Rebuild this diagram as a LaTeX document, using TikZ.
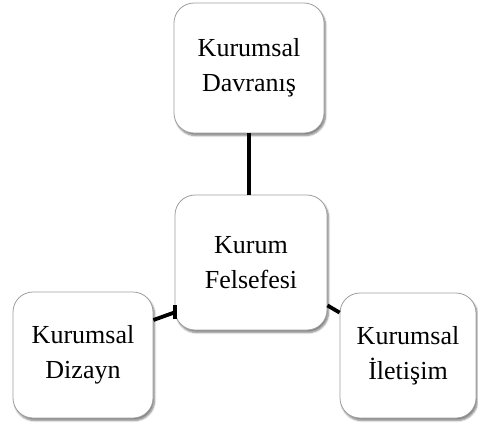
\documentclass[tikz,border=0pt]{standalone}
\usepackage{fontspec}
\setmainfont{Liberation Serif}
\usetikzlibrary{shadows.blur}
\begin{document}
\begin{tikzpicture}[x=1pt,y=-1pt,
  box/.style={draw=gray!75, line width=0.8pt, fill=white, rounded corners=20pt,
    align=center, font=\fontsize{26}{35}\selectfont, inner sep=0pt,
    blur shadow={shadow xshift=1.5pt, shadow yshift=-2.5pt, shadow blur steps=6, shadow opacity=50}},
  conn/.style={line width=3.8pt, black}]
\useasboundingbox (0,0) rectangle (478,426);
% boxes
\node[box, minimum width=150pt, minimum height=130pt] (top) at (249,68) {Kurumsal\\Davranış};
\node[box, minimum width=152pt, minimum height=135pt] (ctr) at (251,262.5) {Kurum\\Felsefesi};
\node[box, minimum width=140pt, minimum height=126pt] (lft) at (83,355) {Kurumsal\\Dizayn};
\node[box, minimum width=136pt, minimum height=125pt] (rgt) at (408,355.5) {Kurumsal\\İletişim};
% connectors
\draw[conn] (top.south) -- (top.south |- ctr.north);
\draw[conn] ([yshift=35pt]lft.east) -- ([yshift=18pt]ctr.south west);
\draw[conn] ([yshift=11pt]ctr.south west) -- ([yshift=25pt]ctr.south west);
\draw[conn] ([yshift=25pt]ctr.south east) -- ([yshift=-20pt]rgt.north west);
\end{tikzpicture}
\end{document}
